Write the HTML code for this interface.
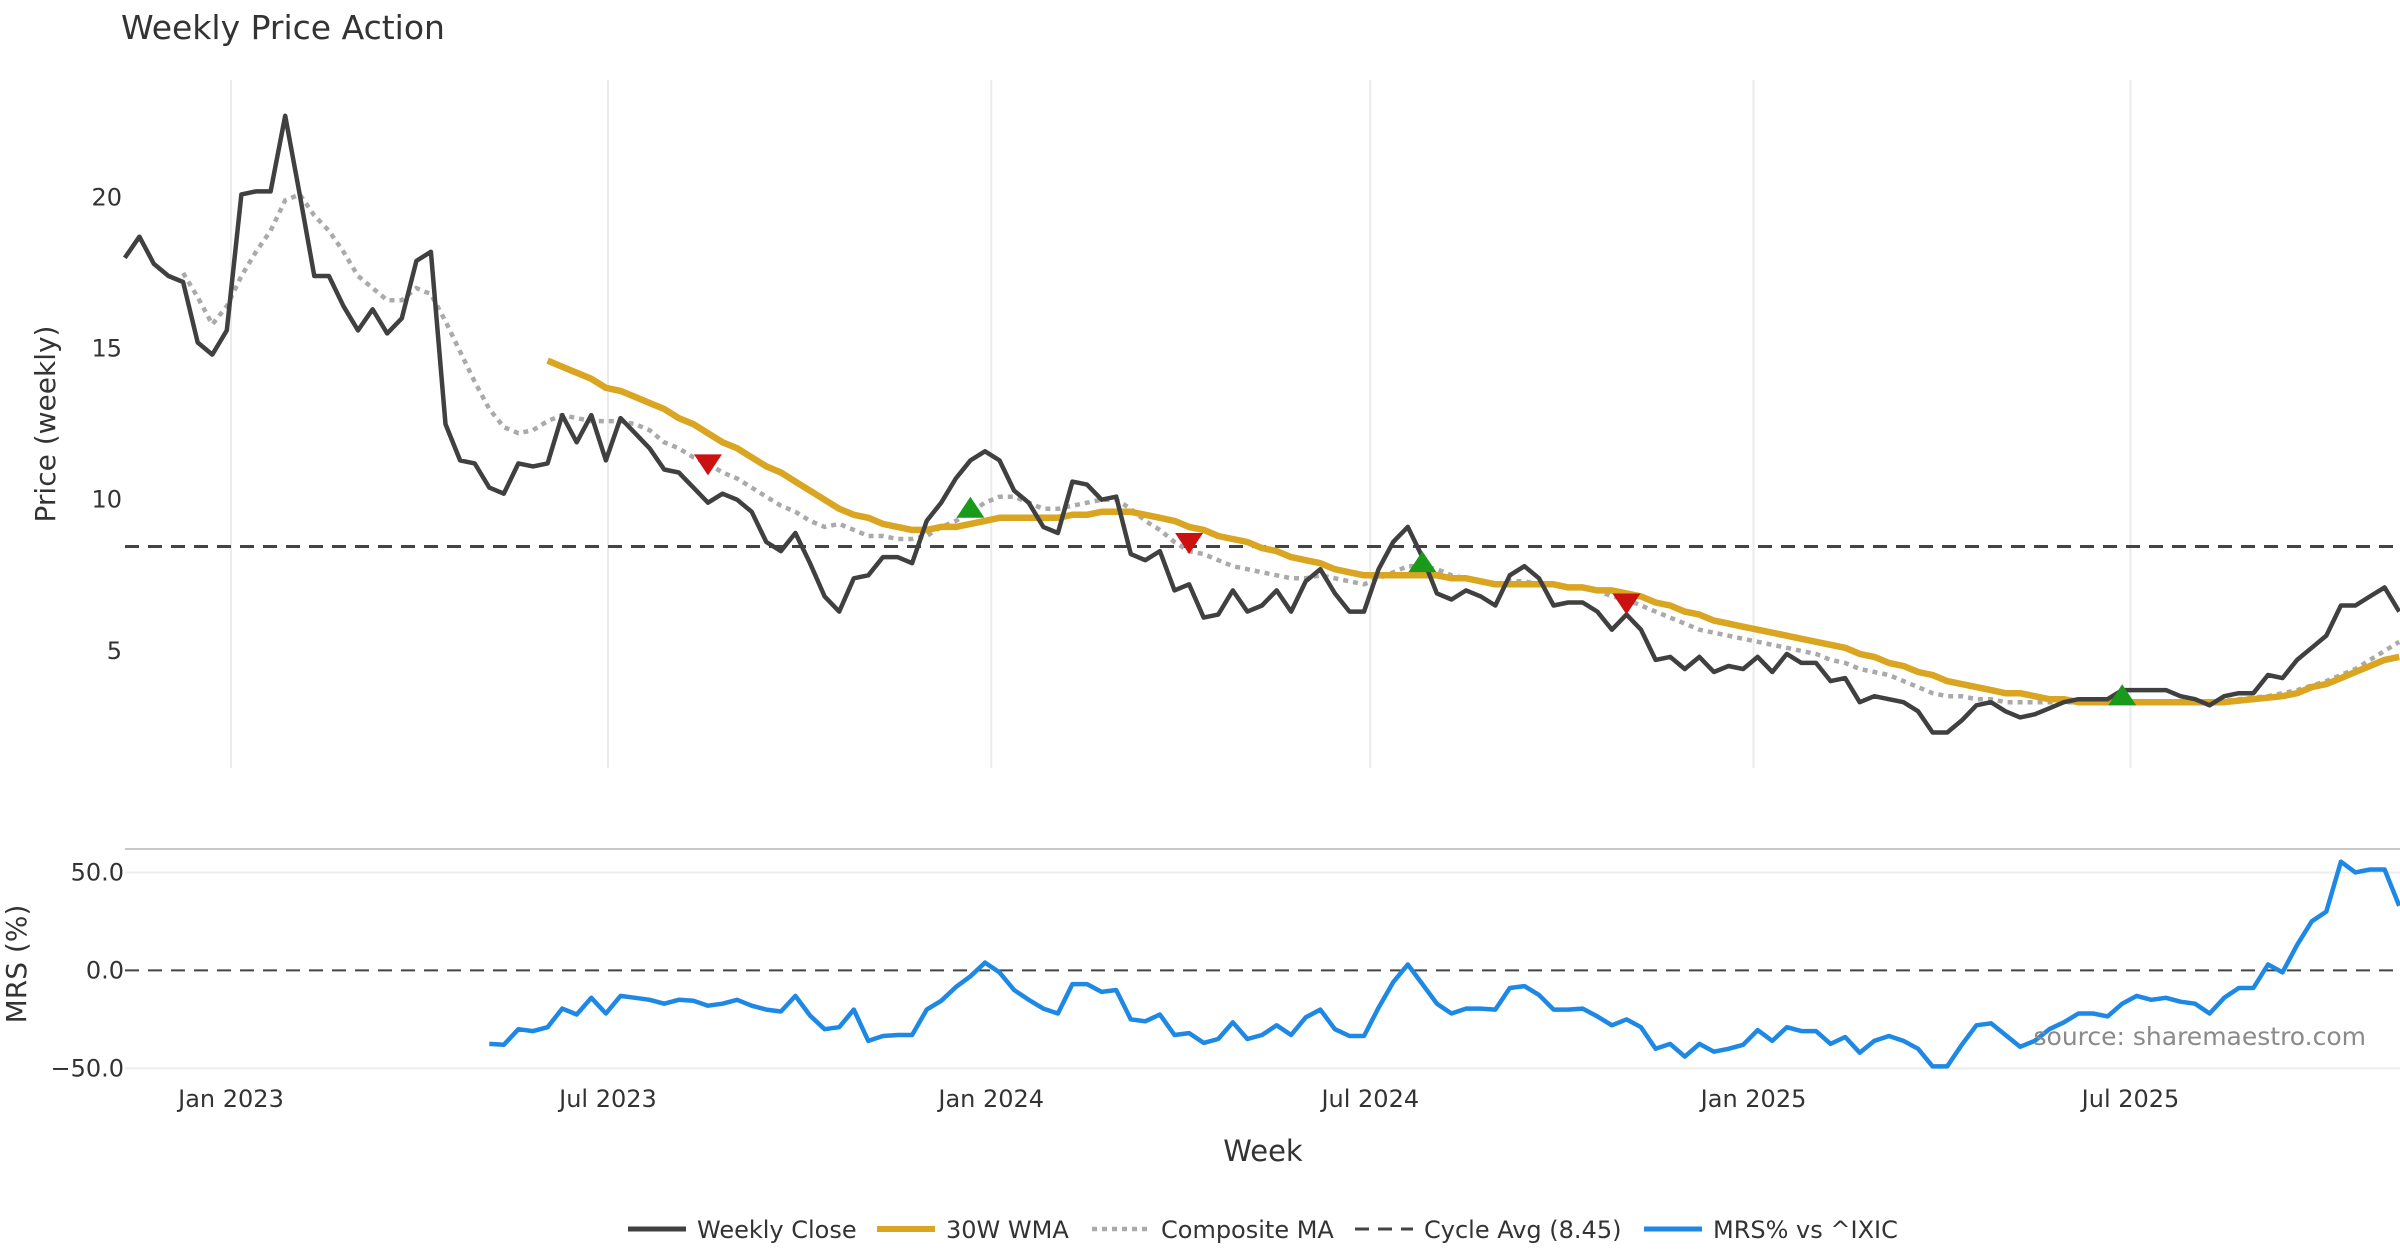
<!DOCTYPE html>
<html><head><meta charset="utf-8"><title>Weekly Price Action</title>
<style>
html,body{margin:0;padding:0;background:#fff;}
svg{display:block;font-family:"DejaVu Sans","Liberation Sans",sans-serif;}
</style></head>
<body>
<svg id="chart" width="2400" height="1260" viewBox="0 0 2400 1260" xmlns="http://www.w3.org/2000/svg">
<rect x="0" y="0" width="2400" height="1260" fill="#fff"/>
<text x="121" y="39" font-size="33" fill="#333">Weekly Price Action</text>
<g id="grid"></g>
<g id="price"></g>
<g id="mrs"></g>
<g id="axes"></g>
<text transform="translate(55,424) rotate(-90)" text-anchor="middle" font-size="28" fill="#333">Price (weekly)</text>
<text transform="translate(26,964) rotate(-90)" text-anchor="middle" font-size="28" fill="#333">MRS (%)</text>
<text x="1263" y="1161" text-anchor="middle" font-size="29" fill="#333">Week</text>
<text x="2366" y="1045" text-anchor="end" font-size="25" fill="#8a8a8a">source: sharemaestro.com</text>
<g id="legend"></g>
</svg>
<script>
// ---- data ----
const startDate = "2022-11-11";
const closeValues = [18.0,18.7,17.8,17.4,17.2,15.2,14.8,15.6,20.1,20.2,20.2,22.7,20.1,17.4,17.4,16.4,15.6,16.3,15.5,16.0,17.9,18.2,12.5,11.3,11.2,10.4,10.2,11.2,11.1,11.2,12.8,11.9,12.8,11.3,12.7,12.2,11.7,11.0,10.9,10.4,9.9,10.2,10.0,9.6,8.6,8.3,8.9,7.9,6.8,6.3,7.4,7.5,8.1,8.1,7.9,9.3,9.9,10.7,11.3,11.6,11.3,10.3,9.9,9.1,8.9,10.6,10.5,10.0,10.1,8.2,8.0,8.3,7.0,7.2,6.1,6.2,7.0,6.3,6.5,7.0,6.3,7.3,7.7,6.9,6.3,6.3,7.7,8.6,9.1,8.1,6.9,6.7,7.0,6.8,6.5,7.5,7.8,7.4,6.5,6.6,6.6,6.3,5.7,6.2,5.7,4.7,4.8,4.4,4.8,4.3,4.5,4.4,4.8,4.3,4.9,4.6,4.6,4.0,4.1,3.3,3.5,3.4,3.3,3.0,2.3,2.3,2.7,3.2,3.3,3.0,2.8,2.9,3.1,3.3,3.4,3.4,3.4,3.7,3.7,3.7,3.7,3.5,3.4,3.2,3.5,3.6,3.6,4.2,4.1,4.7,5.1,5.5,6.5,6.5,6.8,7.1,6.3];
const compositeStart = 4;
const compositeValues = [17.5,16.7,15.8,16.4,17.4,18.2,18.9,19.9,20.1,19.4,18.9,18.2,17.4,17.0,16.6,16.6,17.0,16.8,15.9,14.9,13.9,13.0,12.4,12.2,12.3,12.6,12.8,12.7,12.6,12.6,12.6,12.5,12.3,11.9,11.7,11.4,11.2,10.9,10.7,10.4,10.1,9.8,9.6,9.3,9.1,9.2,9.0,8.8,8.8,8.7,8.7,8.8,9.1,9.3,9.6,9.9,10.1,10.1,9.9,9.7,9.7,9.8,9.9,10.0,10.0,9.7,9.3,9.0,8.6,8.3,8.2,8.0,7.8,7.7,7.6,7.5,7.4,7.4,7.5,7.4,7.3,7.2,7.4,7.6,7.8,7.8,7.7,7.5,7.4,7.3,7.2,7.3,7.3,7.2,7.2,7.1,7.1,7.0,6.8,6.7,6.5,6.3,6.1,5.9,5.7,5.6,5.5,5.4,5.3,5.2,5.1,5.0,4.9,4.7,4.6,4.4,4.3,4.2,4.0,3.8,3.6,3.5,3.5,3.4,3.4,3.3,3.3,3.3,3.3,3.3,3.3,3.3,3.3,3.3,3.3,3.3,3.3,3.3,3.3,3.3,3.35,3.4,3.45,3.5,3.6,3.7,3.85,4.0,4.2,4.4,4.7,5.0,5.3];
const wmaStart = 29;
const wmaValues = [14.6,14.4,14.2,14.0,13.7,13.6,13.4,13.2,13.0,12.7,12.5,12.2,11.9,11.7,11.4,11.1,10.9,10.6,10.3,10.0,9.7,9.5,9.4,9.2,9.1,9.0,9.0,9.1,9.1,9.2,9.3,9.4,9.4,9.4,9.4,9.4,9.5,9.5,9.6,9.6,9.6,9.5,9.4,9.3,9.1,9.0,8.8,8.7,8.6,8.4,8.3,8.1,8.0,7.9,7.7,7.6,7.5,7.5,7.5,7.5,7.5,7.5,7.4,7.4,7.3,7.2,7.2,7.2,7.2,7.2,7.1,7.1,7.0,7.0,6.9,6.8,6.6,6.5,6.3,6.2,6.0,5.9,5.8,5.7,5.6,5.5,5.4,5.3,5.2,5.1,4.9,4.8,4.6,4.5,4.3,4.2,4.0,3.9,3.8,3.7,3.6,3.6,3.5,3.4,3.4,3.3,3.3,3.3,3.3,3.3,3.3,3.3,3.3,3.3,3.3,3.3,3.35,3.4,3.45,3.5,3.6,3.8,3.9,4.1,4.3,4.5,4.7,4.8];
const cycleAvg = 8.45;
const mrsStart = 25;
const mrsValues = [-37.5,-38,-30,-31,-29,-19.5,-22.5,-14,-22,-13,-14,-15,-17,-15,-15.5,-18,-17,-15,-18,-20,-21,-13,-23,-30,-29,-20,-36,-33.5,-33,-33,-20,-15.5,-8.5,-3,4,-1,-10,-15,-19.5,-22,-7,-7,-11,-10,-25,-26,-22.5,-33,-32,-37,-35,-26.5,-35,-33,-28,-33,-24,-20,-30,-33.5,-33.5,-19,-6,3,-7,-17,-22,-19.5,-19.5,-20,-9,-8,-12.5,-20,-20,-19.5,-23.5,-28,-25,-29,-40,-37.5,-44,-37.5,-41.5,-40,-38,-30.5,-36,-29,-31,-31,-37.5,-34,-42,-36,-33.5,-36,-40,-49,-49,-38,-28,-27,-33,-39,-36,-30,-26.5,-22,-22,-23.5,-17,-13,-15,-14,-16,-17,-22,-14,-9,-9,3,-1,13,25,30,55.5,50,51.5,51.5,33];
const sellIdx = [40,73,103];
const sellVals = [11.2,8.6,6.6];
const buyIdx = [58,89,137];
const buyVals = [9.7,7.9,3.5];
const xTickLabels = ["Jan 2023","Jul 2023","Jan 2024","Jul 2024","Jan 2025","Jul 2025"];
const xTickDates = ["2023-01-01","2023-07-01","2024-01-01","2024-07-01","2025-01-01","2025-07-01"];
const priceTicks = [5,10,15,20];
const mrsTicks = [50,0,-50];
const mrsTickLabels = ["50.0","0.0","\u221250.0"];

// ---- scales ----
const DAY = 86400000;
const t0 = Date.parse("2023-01-01");
function xDate(ms){ return 231 + (ms - t0)/DAY * (2130.5-231)/912; }
function xIdx(i){ return xDate(Date.parse(startDate) + i*7*DAY); }
function yPrice(v){ return 802 - 30.23*v; }
function yMrs(v){ return 970.4 - 1.959*v; }
const NS="http://www.w3.org/2000/svg";
function mk(tag, attrs, parent){ const e=document.createElementNS(NS,tag); for(const k in attrs) e.setAttribute(k,attrs[k]); parent.appendChild(e); return e; }
const gridG=document.getElementById('grid'), priceG=document.getElementById('price'), mrsG=document.getElementById('mrs'), axesG=document.getElementById('axes'), legendG=document.getElementById('legend');

xTickDates.forEach((d,i)=>{
  const x=xDate(Date.parse(d));
  const g=mk('line',{x1:x,x2:x,y1:80,y2:768,stroke:'#ebebeb','stroke-width':2},gridG);
  
  
  const t=mk('text',{x:x,y:1107,'text-anchor':'middle','font-size':24,fill:'#333'},axesG);
  t.textContent=xTickLabels[i];
  
  
});
priceTicks.forEach(v=>{
  const t=mk('text',{x:122,y:yPrice(v)+8,'text-anchor':'end','font-size':24,fill:'#333'},axesG);
  t.textContent=String(v);
  
  
});
const panelTop=mk('line',{x1:125,x2:2400,y1:849,y2:849,stroke:'#c8c8c8','stroke-width':2},gridG);


mrsTicks.forEach((v,i)=>{
  const y=yMrs(v);
  if(v!==0){
    const l=mk('line',{x1:125,x2:2400,y1:y,y2:y,stroke:'#ececec','stroke-width':2},gridG);
    
    
  }
  const t=mk('text',{x:124,y:y+8,'text-anchor':'end','font-size':24,fill:'#333'},axesG);
  t.textContent=mrsTickLabels[i];
  
  
});

function path(vals, start, yf){
  return vals.map((v,i)=>(i?'L':'M')+xIdx(start+i).toFixed(1)+','+yf(v).toFixed(1)).join(' ');
}
const ca=mk('line',{x1:125,x2:2400,y1:yPrice(cycleAvg),y2:yPrice(cycleAvg),stroke:'#444','stroke-width':3,'stroke-dasharray':'14,9'},priceG);


const cm=mk('path',{d:path(compositeValues,compositeStart,yPrice),fill:'none',stroke:'#aaaaaa','stroke-width':4.5,'stroke-dasharray':'5,5'},priceG);


const wm=mk('path',{d:path(wmaValues,wmaStart,yPrice),fill:'none',stroke:'#DAA520','stroke-width':6.5,'stroke-linejoin':'round'},priceG);


const cl=mk('path',{d:path(closeValues,0,yPrice),fill:'none',stroke:'#404040','stroke-width':4.5,'stroke-linejoin':'round'},priceG);


sellIdx.forEach((ix,i)=>{
  const x=xIdx(ix), y=yPrice(sellVals[i]);
  const p=mk('polygon',{points:`${x-14},${y-9} ${x+14},${y-9} ${x},${y+12}`,fill:'#cc1111'},priceG);
  
  
});
buyIdx.forEach((ix,i)=>{
  const x=xIdx(ix), y=yPrice(buyVals[i]);
  const p=mk('polygon',{points:`${x-14},${y+9} ${x+14},${y+9} ${x},${y-12}`,fill:'#1a9a1a'},priceG);
  
  
});
const z=mk('line',{x1:125,x2:2400,y1:yMrs(0),y2:yMrs(0),stroke:'#444','stroke-width':2,'stroke-dasharray':'14,9'},mrsG);


const ml=mk('path',{d:path(mrsValues,mrsStart,yMrs),fill:'none',stroke:'#1E88E5','stroke-width':4.5,'stroke-linejoin':'round'},mrsG);



const legItems=[["Weekly Close",'#404040',5,null,628],["30W WMA",'#DAA520',6,null,877],["Composite MA",'#aaaaaa',4.5,'5,5',1092],["Cycle Avg (8.45)",'#444',3,'14,9',1355],["MRS% vs ^IXIC",'#1E88E5',5,null,1644]];
legItems.forEach(it=>{
  const g=mk('g',{},legendG);
  
  
  const a={x1:it[4],x2:it[4]+58,y1:1229,y2:1229,stroke:it[1],'stroke-width':it[2]};
  if(it[3]) a['stroke-dasharray']=it[3];
  mk('line',a,g);
  const t=mk('text',{x:it[4]+69,y:1238,'font-size':24,fill:'#333'},g);
  t.textContent=it[0];
});
</script>
</body></html>
